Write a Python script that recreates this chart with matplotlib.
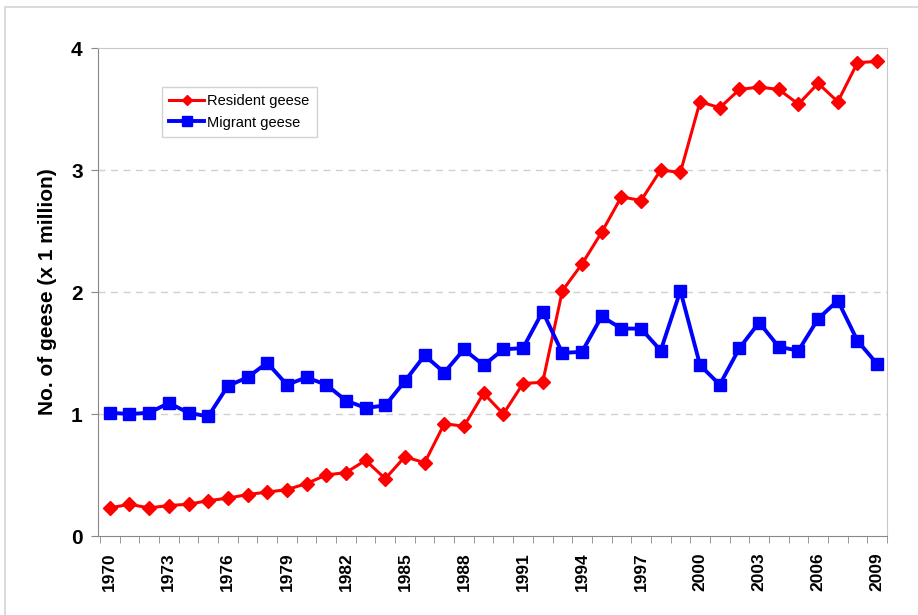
import matplotlib
matplotlib.use('Agg')
import matplotlib.pyplot as plt
import matplotlib.ticker
import numpy as np

years = list(range(1970, 2010))
resident = [0.23, 0.26, 0.23, 0.25, 0.26, 0.29, 0.31, 0.34, 0.36, 0.38,
            0.43, 0.50, 0.52, 0.62, 0.47, 0.65, 0.60, 0.92, 0.90, 1.17,
            1.00, 1.25, 1.26, 2.01, 2.23, 2.49, 2.78, 2.75, 3.00, 2.98,
            3.56, 3.51, 3.66, 3.68, 3.66, 3.54, 3.71, 3.56, 3.88, 3.89]
migrant = [1.01, 1.00, 1.01, 1.09, 1.01, 0.98, 1.23, 1.30, 1.42, 1.24,
           1.30, 1.24, 1.11, 1.05, 1.07, 1.27, 1.48, 1.34, 1.53, 1.40,
           1.53, 1.54, 1.84, 1.50, 1.51, 1.80, 1.70, 1.70, 1.52, 2.01,
           1.40, 1.24, 1.54, 1.75, 1.55, 1.52, 1.78, 1.93, 1.60, 1.41]
label_years = list(range(1970, 2010, 3))
y_ticks = [0, 1, 2, 3, 4]

plt.rcParams['font.family'] = ['Liberation Sans', 'DejaVu Sans']

fig = plt.figure(figsize=(9.18, 6.15), dpi=100)
ax = fig.add_axes([98 / 918, 79 / 615, 789 / 918, 488 / 615])

# outer frame of the chart
fig.patches.append(matplotlib.patches.Rectangle(
    (5 / 918, -0.05), 1.0, (615 - 7) / 615 + 0.05,
    transform=fig.transFigure, fill=False, edgecolor='#d4d4d4', linewidth=1.2))

ax.plot(years, resident, '-D', color='#ff0000', markersize=7,
        linewidth=2.2, label='Resident geese', zorder=3)
ax.plot(years, migrant, '-s', color='#0000ff', markersize=8.5,
        linewidth=2.8, label='Migrant geese', zorder=3)

ax.set_xlim(1969.4, 2009.5)
ax.set_ylim(0, 4)

ax.set_yticks(y_ticks)
ax.set_yticklabels([str(v) for v in y_ticks], fontsize=15, fontweight='bold')
for v in y_ticks[1:-1]:
    ax.axhline(v, color='#d0d0d0', linestyle=(0, (5, 4)), linewidth=1.0, zorder=1)

ax.set_xticks(label_years)
ax.set_xticklabels([str(y) for y in label_years], rotation=90,
                   fontsize=12.5, fontweight='bold')
ax.tick_params(axis='x', which='major', length=0, pad=12)
ax.xaxis.set_minor_locator(matplotlib.ticker.FixedLocator(np.arange(1969.5, 2010, 1)))
ax.tick_params(axis='x', which='minor', length=5, color='#888888', direction='out')
ax.tick_params(axis='y', length=5, color='#888888', pad=6)

ax.spines['top'].set_color('#c8c8c8')
ax.spines['right'].set_color('#c8c8c8')
ax.spines['left'].set_color('#888888')
ax.spines['bottom'].set_color('#888888')

ax.set_ylabel('No. of geese (x 1 million)', fontsize=15, fontweight='bold', labelpad=10)

leg = ax.legend(loc='upper left', bbox_to_anchor=(0.072, 0.935), fontsize=10.5,
                fancybox=False, edgecolor='#c8c8c8', handlelength=2.4,
                handletextpad=0.2, borderpad=0.5, labelspacing=0.5,
                markerscale=0.8)
leg.get_frame().set_linewidth(1.0)

fig.savefig('out.png', dpi=100)
